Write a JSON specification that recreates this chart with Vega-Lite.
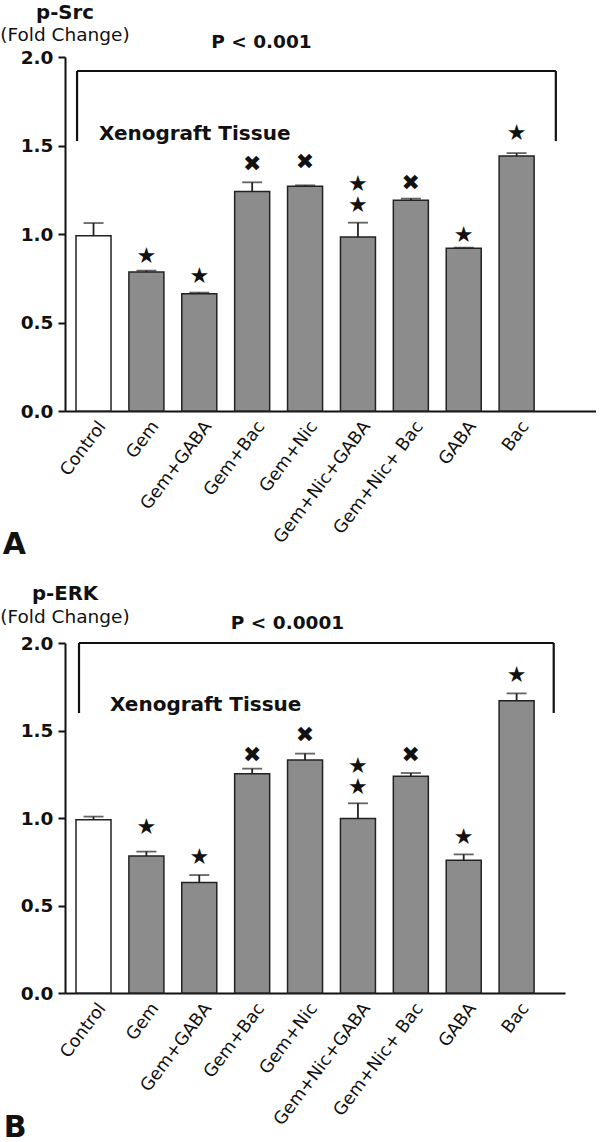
{
  "$schema": "https://vega.github.io/schema/vega-lite/v6.json",
  "padding": {"left": 0, "right": 0, "top": 2, "bottom": 0},
  "spacing": 23,
  "config": {
    "view": {"stroke": null},
    "font": "DejaVu Sans",
    "axis": {"domainColor": "#111", "domainWidth": 2, "tickColor": "#111", "tickWidth": 2, "labelColor": "#111", "grid": false, "labelFont": "DejaVu Sans"},
    "title": {"color": "#111", "subtitleColor": "#111"}
  },
  "datasets": {
    "barsA": [
      {"cond": "Control", "grp": "control", "mean": 0.99, "hi": 1.062},
      {"cond": "Gem", "grp": "treated", "mean": 0.785, "hi": 0.793},
      {"cond": "Gem+GABA", "grp": "treated", "mean": 0.663, "hi": 0.669},
      {"cond": "Gem+Bac", "grp": "treated", "mean": 1.24, "hi": 1.292},
      {"cond": "Gem+Nic", "grp": "treated", "mean": 1.27, "hi": 1.275},
      {"cond": "Gem+Nic+GABA", "grp": "treated", "mean": 0.983, "hi": 1.064},
      {"cond": "Gem+Nic+ Bac", "grp": "treated", "mean": 1.19, "hi": 1.2},
      {"cond": "GABA", "grp": "treated", "mean": 0.919, "hi": 0.923},
      {"cond": "Bac", "grp": "treated", "mean": 1.44, "hi": 1.457}
    ],
    "barsB": [
      {"cond": "Control", "grp": "control", "mean": 0.99, "hi": 1.008},
      {"cond": "Gem", "grp": "treated", "mean": 0.783, "hi": 0.808},
      {"cond": "Gem+GABA", "grp": "treated", "mean": 0.632, "hi": 0.674},
      {"cond": "Gem+Bac", "grp": "treated", "mean": 1.253, "hi": 1.282},
      {"cond": "Gem+Nic", "grp": "treated", "mean": 1.331, "hi": 1.368},
      {"cond": "Gem+Nic+GABA", "grp": "treated", "mean": 0.997, "hi": 1.084},
      {"cond": "Gem+Nic+ Bac", "grp": "treated", "mean": 1.238, "hi": 1.257},
      {"cond": "GABA", "grp": "treated", "mean": 0.758, "hi": 0.792},
      {"cond": "Bac", "grp": "treated", "mean": 1.67, "hi": 1.712}
    ],
    "symsA": [
      {"cond": "Gem", "pos": 0.876, "sym": "★"},
      {"cond": "Gem+GABA", "pos": 0.763, "sym": "★"},
      {"cond": "Gem+Bac", "pos": 1.395, "sym": "✖"},
      {"cond": "Gem+Nic", "pos": 1.405, "sym": "✖"},
      {"cond": "Gem+Nic+GABA", "pos": 1.281, "sym": ["★", "★"]},
      {"cond": "Gem+Nic+ Bac", "pos": 1.289, "sym": "✖"},
      {"cond": "GABA", "pos": 0.992, "sym": "★"},
      {"cond": "Bac", "pos": 1.57, "sym": "★"}
    ],
    "symsB": [
      {"cond": "Gem", "pos": 0.949, "sym": "★"},
      {"cond": "Gem+GABA", "pos": 0.778, "sym": "★"},
      {"cond": "Gem+Bac", "pos": 1.361, "sym": "✖"},
      {"cond": "Gem+Nic", "pos": 1.474, "sym": "✖"},
      {"cond": "Gem+Nic+GABA", "pos": 1.298, "sym": ["★", "★"]},
      {"cond": "Gem+Nic+ Bac", "pos": 1.361, "sym": "✖"},
      {"cond": "GABA", "pos": 0.892, "sym": "★"},
      {"cond": "Bac", "pos": 1.817, "sym": "★"}
    ]
  },
  "vconcat": [
    {
      "width": 531,
      "height": 354,
      "title": {"text": "p-Src", "subtitle": "(Fold Change)", "anchor": "start", "align": "center", "frame": "group", "font": "DejaVu Sans", "fontSize": 19.7, "fontWeight": "bold", "subtitleFont": "DejaVu Sans", "subtitleFontSize": 18.5, "subtitleFontWeight": "normal", "subtitlePadding": 4, "offset": -12},
      "layer": [
        {
          "data": {"name": "barsA"},
          "mark": {"type": "bar", "stroke": "#222", "strokeWidth": 1.5},
          "encoding": {
            "x": {"field": "cond", "type": "nominal", "sort": null,
              "scale": {"domain": ["Control", "Gem", "Gem+GABA", "Gem+Bac", "Gem+Nic", "Gem+Nic+GABA", "Gem+Nic+ Bac", "GABA", "Bac"], "paddingInner": 0.338, "paddingOuter": 0.689, "align": 0.151},
              "axis": {"title": null, "labelAngle": -53, "labelFontSize": 17.5, "ticks": false, "labelPadding": 12, "labelOffset": 9, "labelAlign": "right", "labelBaseline": "middle"}},
            "y": {"field": "mean", "type": "quantitative",
              "scale": {"domain": [0, 2], "nice": false},
              "axis": {"title": null, "values": [0, 0.5, 1, 1.5, 2], "format": ".1f", "labelFontSize": 18.5, "labelFontWeight": "bold", "tickSize": 7, "labelPadding": 5}},
            "color": {"field": "grp", "type": "nominal", "scale": {"domain": ["control", "treated"], "range": ["#ffffff", "#8c8c8c"]}, "legend": null}
          }
        },
        {
          "data": {"name": "barsA"},
          "mark": {"type": "rule", "color": "#222", "strokeWidth": 1.8},
          "encoding": {"x": {"field": "cond", "type": "nominal", "sort": null}, "y": {"field": "mean", "type": "quantitative"}, "y2": {"field": "hi"}}
        },
        {
          "data": {"name": "barsA"},
          "mark": {"type": "tick", "color": "#222", "size": 20, "thickness": 1.8},
          "encoding": {"x": {"field": "cond", "type": "nominal", "sort": null}, "y": {"field": "hi", "type": "quantitative"}}
        },
        {
          "data": {"name": "symsA"},
          "mark": {"type": "text", "fontSize": 22, "lineHeight": 21, "baseline": "middle", "align": "center", "color": "#111"},
          "encoding": {"x": {"field": "cond", "type": "nominal", "sort": null}, "y": {"field": "pos", "type": "quantitative"}, "text": {"field": "sym"}}
        },
        {
          "data": {"values": [{"l": "Control", "r": "Bac", "top": 1.921, "bot": 1.525}]},
          "mark": {"type": "rule", "color": "#111", "strokeWidth": 2.2},
          "encoding": {"x": {"field": "l", "type": "nominal", "bandPosition": 0.03}, "x2": {"field": "r", "bandPosition": 1.62}, "y": {"field": "top", "type": "quantitative"}}
        },
        {
          "data": {"values": [{"l": "Control", "r": "Bac", "top": 1.921, "bot": 1.525}]},
          "mark": {"type": "rule", "color": "#111", "strokeWidth": 2.2},
          "encoding": {"x": {"field": "l", "type": "nominal", "bandPosition": 0.03}, "y": {"field": "top", "type": "quantitative"}, "y2": {"field": "bot"}}
        },
        {
          "data": {"values": [{"l": "Control", "r": "Bac", "top": 1.921, "bot": 1.525}]},
          "mark": {"type": "rule", "color": "#111", "strokeWidth": 2.2},
          "encoding": {"x": {"field": "r", "type": "nominal", "bandPosition": 1.62}, "y": {"field": "top", "type": "quantitative"}, "y2": {"field": "bot"}}
        },
        {
          "data": {"values": [{"cond": "Gem+Bac", "pos": 2.085, "label": "P < 0.001"}]},
          "mark": {"type": "text", "fontSize": 18.5, "fontWeight": "bold", "align": "center", "baseline": "middle", "color": "#111"},
          "encoding": {"x": {"field": "cond", "type": "nominal", "bandPosition": 0.765}, "y": {"field": "pos", "type": "quantitative"}, "text": {"field": "label"}}
        },
        {
          "data": {"values": [{"cond": "Control", "pos": 1.565, "label": "Xenograft Tissue"}]},
          "mark": {"type": "text", "fontSize": 20, "fontWeight": "bold", "align": "left", "baseline": "middle", "color": "#111"},
          "encoding": {"x": {"field": "cond", "type": "nominal", "bandPosition": 0.657}, "y": {"field": "pos", "type": "quantitative"}, "text": {"field": "label"}}
        },
        {
          "data": {"values": [{"cond": "Control", "pos": -0.757, "label": "A"}]},
          "mark": {"type": "text", "fontSize": 30, "fontWeight": "bold", "align": "left", "baseline": "middle", "color": "#111"},
          "encoding": {"x": {"field": "cond", "type": "nominal", "bandPosition": -2.09}, "y": {"field": "pos", "type": "quantitative"}, "text": {"field": "label"}}
        }
      ]
    },
    {
      "width": 500,
      "height": 350,
      "title": {"text": "p-ERK", "subtitle": "(Fold Change)", "anchor": "start", "align": "center", "frame": "group", "font": "DejaVu Sans", "fontSize": 19.7, "fontWeight": "bold", "subtitleFont": "DejaVu Sans", "subtitleFontSize": 18.5, "subtitleFontWeight": "normal", "subtitlePadding": 4, "offset": -12},
      "layer": [
        {
          "data": {"name": "barsB"},
          "mark": {"type": "bar", "stroke": "#222", "strokeWidth": 1.5},
          "encoding": {
            "x": {"field": "cond", "type": "nominal", "sort": null,
              "scale": {"domain": ["Control", "Gem", "Gem+GABA", "Gem+Bac", "Gem+Nic", "Gem+Nic+GABA", "Gem+Nic+ Bac", "GABA", "Bac"], "paddingInner": 0.338, "paddingOuter": 0.396, "align": 0.2625},
              "axis": {"title": null, "labelAngle": -53, "labelFontSize": 17.5, "ticks": false, "labelPadding": 12, "labelOffset": 9, "labelAlign": "right", "labelBaseline": "middle"}},
            "y": {"field": "mean", "type": "quantitative",
              "scale": {"domain": [0, 2], "nice": false},
              "axis": {"title": null, "values": [0, 0.5, 1, 1.5, 2], "format": ".1f", "labelFontSize": 18.5, "labelFontWeight": "bold", "tickSize": 7, "labelPadding": 5}},
            "color": {"field": "grp", "type": "nominal", "scale": {"domain": ["control", "treated"], "range": ["#ffffff", "#8c8c8c"]}, "legend": null}
          }
        },
        {
          "data": {"name": "barsB"},
          "mark": {"type": "rule", "color": "#222", "strokeWidth": 1.8},
          "encoding": {"x": {"field": "cond", "type": "nominal", "sort": null}, "y": {"field": "mean", "type": "quantitative"}, "y2": {"field": "hi"}}
        },
        {
          "data": {"name": "barsB"},
          "mark": {"type": "tick", "color": "#222", "size": 20, "thickness": 1.8},
          "encoding": {"x": {"field": "cond", "type": "nominal", "sort": null}, "y": {"field": "hi", "type": "quantitative"}}
        },
        {
          "data": {"name": "symsB"},
          "mark": {"type": "text", "fontSize": 22, "lineHeight": 21, "baseline": "middle", "align": "center", "color": "#111"},
          "encoding": {"x": {"field": "cond", "type": "nominal", "sort": null}, "y": {"field": "pos", "type": "quantitative"}, "text": {"field": "sym"}}
        },
        {
          "data": {"values": [{"l": "Control", "r": "Bac", "top": 2.0, "bot": 1.6}]},
          "mark": {"type": "rule", "color": "#111", "strokeWidth": 2.2},
          "encoding": {"x": {"field": "l", "type": "nominal", "bandPosition": 0.086}, "x2": {"field": "r", "bandPosition": 1.56}, "y": {"field": "top", "type": "quantitative"}}
        },
        {
          "data": {"values": [{"l": "Control", "r": "Bac", "top": 2.0, "bot": 1.6}]},
          "mark": {"type": "rule", "color": "#111", "strokeWidth": 2.2},
          "encoding": {"x": {"field": "l", "type": "nominal", "bandPosition": 0.086}, "y": {"field": "top", "type": "quantitative"}, "y2": {"field": "bot"}}
        },
        {
          "data": {"values": [{"l": "Control", "r": "Bac", "top": 2.0, "bot": 1.6}]},
          "mark": {"type": "rule", "color": "#111", "strokeWidth": 2.2},
          "encoding": {"x": {"field": "r", "type": "nominal", "bandPosition": 1.56}, "y": {"field": "top", "type": "quantitative"}, "y2": {"field": "bot"}}
        },
        {
          "data": {"values": [{"cond": "Gem+Nic", "pos": 2.114, "label": "P < 0.0001"}]},
          "mark": {"type": "text", "fontSize": 18.5, "fontWeight": "bold", "align": "center", "baseline": "middle", "color": "#111"},
          "encoding": {"x": {"field": "cond", "type": "nominal", "bandPosition": 0}, "y": {"field": "pos", "type": "quantitative"}, "text": {"field": "label"}}
        },
        {
          "data": {"values": [{"cond": "Control", "pos": 1.646, "label": "Xenograft Tissue"}]},
          "mark": {"type": "text", "fontSize": 20, "fontWeight": "bold", "align": "left", "baseline": "middle", "color": "#111"},
          "encoding": {"x": {"field": "cond", "type": "nominal", "bandPosition": 0.97}, "y": {"field": "pos", "type": "quantitative"}, "text": {"field": "label"}}
        },
        {
          "data": {"values": [{"cond": "Control", "pos": -0.771, "label": "B"}]},
          "mark": {"type": "text", "fontSize": 30, "fontWeight": "bold", "align": "left", "baseline": "middle", "color": "#111"},
          "encoding": {"x": {"field": "cond", "type": "nominal", "bandPosition": -2.06}, "y": {"field": "pos", "type": "quantitative"}, "text": {"field": "label"}}
        }
      ]
    }
  ]
}
